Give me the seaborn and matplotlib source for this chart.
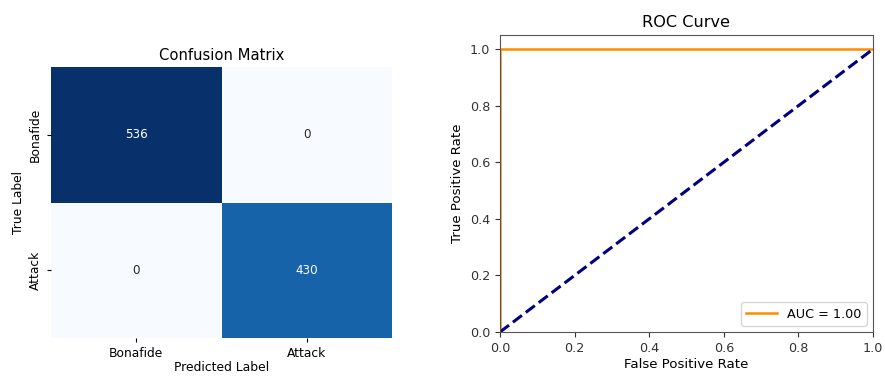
import numpy as np
import pandas as pd
import matplotlib
matplotlib.use("Agg")
import matplotlib.pyplot as plt
import seaborn as sns

# Data
class_labels = ["Bonafide", "Attack"]
cm_row_bonafide = [536, 0]
cm_row_attack = [0, 430]
fpr = [0.0, 0.0, 1.0]
tpr = [0.0, 1.0, 1.0]
chance_x = [0.0, 1.0]
chance_y = [0.0, 1.0]
auc_value = 1.00

plt.rcParams["font.family"] = ["DejaVu Sans"]

fig = plt.figure(figsize=(8.85, 3.76), dpi=100)
ax1 = fig.add_axes([51/885, 1-338/376, (392-51)/885, (338-67)/376])
ax2 = fig.add_axes([500/885, 1-332/376, (873-500)/885, (332-35)/376])

cm = pd.DataFrame([cm_row_bonafide, cm_row_attack], index=class_labels, columns=class_labels)
sns.heatmap(cm, annot=True, fmt="d", cmap="Blues", cbar=False, ax=ax1,
            annot_kws={"fontsize": 8.6})
ax1.set_title("Confusion Matrix", fontsize=10.6, pad=5)
ax1.set_xlabel("Predicted Label", fontsize=8.9, labelpad=1)
ax1.set_ylabel("True Label", fontsize=8.8, labelpad=3)
ax1.tick_params(length=3, labelsize=8.8)

sns.lineplot(x=fpr, y=tpr, color="darkorange", lw=1.8, sort=False, estimator=None,
             label=f"AUC = {auc_value:.2f}", ax=ax2)
sns.lineplot(x=chance_x, y=chance_y, color="navy", lw=2.2, linestyle="--", sort=False,
             estimator=None, ax=ax2)
ax2.set_xlim(0.0, 1.0)
ax2.set_ylim(0.0, 1.05)
ax2.set_xticks([0, 0.2, 0.4, 0.6, 0.8, 1.0])
ax2.set_yticks([0, 0.2, 0.4, 0.6, 0.8, 1.0])
ax2.tick_params(labelsize=9.2, colors="#333333", length=3.5)
ax2.set_title("ROC Curve", fontsize=11.6, pad=6)
ax2.set_xlabel("False Positive Rate", fontsize=9.6, labelpad=2)
ax2.set_ylabel("True Positive Rate", fontsize=9.6)
ax2.legend(loc="lower right", fontsize=9.2, handlelength=2.4)
for s in ax2.spines.values():
    s.set_color("#555555")

fig.savefig("out.png", dpi=100)
